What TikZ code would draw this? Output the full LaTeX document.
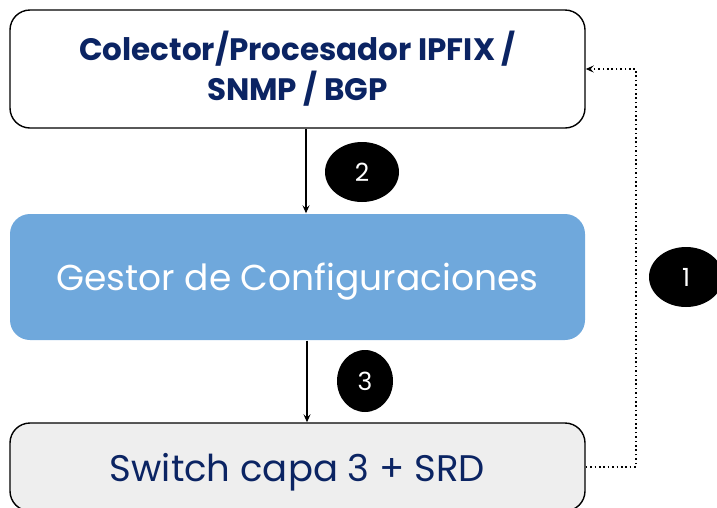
\documentclass[tikz,border=0pt]{standalone}
\usepackage{fontspec}
\setmainfont{Poppins}
\usetikzlibrary{shapes.geometric,arrows.meta}

\definecolor{navy}{HTML}{0B2463}
\definecolor{stepblue}{HTML}{6FA8DC}
\definecolor{boxgray}{HTML}{EEEEEE}

\def\bW{575}
\def\bX{297.5}

\tikzset{
    box/.style={shape=rectangle, rounded corners=20pt, minimum width=\bW pt, align=center},
    badge/.style={shape=ellipse, fill=black, text=white, inner sep=0pt, font=\fontsize{25}{30}\selectfont},
    flow/.style={-{Stealth[length=8pt, width=7pt, inset=3pt]}, line width=1.2pt},
}

\begin{document}
\begin{tikzpicture}[x=1pt, y=-1pt, line width=1.4pt]
    \useasboundingbox (0,0) rectangle (717,507);

    %%   (lable)  (x, y)     {\text}
    \node[box, draw=black, fill=white, minimum height=118pt, text=navy,
          font=\bfseries\fontsize{31}{40}\selectfont] (COL) at (\bX,  69) {Colector/Procesador IPFIX /\\SNMP / BGP};
    \node[box, fill=stepblue, minimum height=126pt, text=white, text depth=0pt,
          font=\fontsize{36}{40}\selectfont]         (GES) at (\bX, 277) {Gestor de Configuraciones};
    \node[box, draw=black, fill=boxgray, minimum height=88pt, text=navy, text depth=0pt,
          font=\fontsize{37}{40}\selectfont]         (SW)  at (\bX, 467) {Switch capa 3 + SRD};

    \node[badge, minimum width=74pt, minimum height=60pt] (B1) at (686, 277) {1};
    \node[badge, minimum width=74pt, minimum height=60pt] (B2) at (362, 172) {2};
    \node[badge, minimum width=56pt, minimum height=62pt] (B3) at (365, 381) {3};

    \draw[flow] ([xshift=8.5pt]COL.south) -- ([xshift=8.5pt]GES.north);
    \draw[flow] ([xshift=9.5pt]GES.south) -- ([xshift=9.5pt]SW.north);
    %
    \draw[flow, line width=1.8pt, dash pattern=on 1.6pt off 2.8pt] (SW.east) -- ++(50,0) |- (COL.east);

\end{tikzpicture}
\end{document}
